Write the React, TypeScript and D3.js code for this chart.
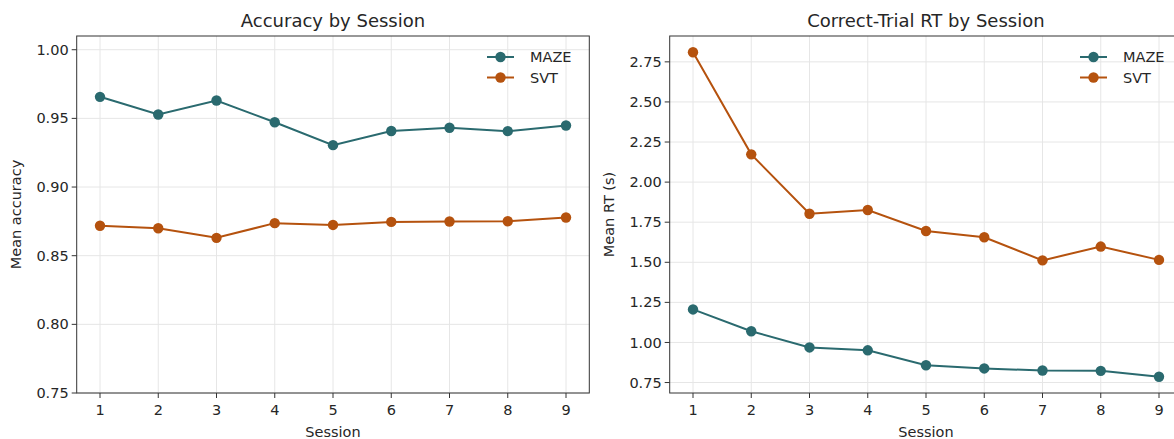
import React from "react";
import * as d3 from "d3";

const sessions = [1, 2, 3, 4, 5, 6, 7, 8, 9];
const mazeAccuracy = [0.9657, 0.9528, 0.963, 0.9472, 0.9305, 0.9408, 0.9432, 0.9407, 0.9448];
const svtAccuracy = [0.8718, 0.8700, 0.8630, 0.8737, 0.8724, 0.8746, 0.8749, 0.8751, 0.8778];
const mazeRT = [1.206, 1.07, 0.969, 0.951, 0.858, 0.838, 0.825, 0.823, 0.786];
const svtRT = [2.81, 2.173, 1.803, 1.826, 1.695, 1.656, 1.512, 1.598, 1.515];
const accTicks = [0.75, 0.8, 0.85, 0.9, 0.95, 1.0];
const rtTicks = [0.75, 1.0, 1.25, 1.5, 1.75, 2.0, 2.25, 2.5, 2.75];
const seriesNames = ["MAZE", "SVT"];

const MAZE_COLOR = "#2a6a6f";
const SVT_COLOR = "#b5520e";
const FONT = "DejaVu Sans, sans-serif";
const TEXT = "#262626";

type PanelProps = {
  left: number;
  right: number;
  top: number;
  bottom: number;
  title: string;
  ylabel: string;
  yDomain: [number, number];
  yTicks: number[];
  series: number[][];
  legendX: number;
  ylabelX: number;
};

function Panel(p: PanelProps) {
  const x = d3.scaleLinear().domain([0.6, 9.4]).range([p.left, p.right]);
  const y = d3.scaleLinear().domain(p.yDomain).range([p.bottom, p.top]);
  const colors = [MAZE_COLOR, SVT_COLOR];
  const line = d3
    .line<number>()
    .x((_, i) => x(sessions[i]))
    .y((d) => y(d));
  const clipId = "clip" + Math.round(p.left);
  return (
    <g>
      <defs>
        <clipPath id={clipId}>
          <rect x={p.left} y={p.top} width={p.right - p.left} height={p.bottom - p.top} />
        </clipPath>
      </defs>
      {sessions.map((s) => (
        <line key={"gx" + s} x1={x(s)} x2={x(s)} y1={p.top} y2={p.bottom} stroke="#e6e6e6" strokeWidth={1} />
      ))}
      {p.yTicks.map((t) => (
        <line key={"gy" + t} x1={p.left} x2={p.right} y1={y(t)} y2={y(t)} stroke="#e6e6e6" strokeWidth={1} />
      ))}
      <g clipPath={`url(#${clipId})`}>
        {p.series.map((vals, si) => (
          <g key={"s" + si}>
            <path d={line(vals) || ""} fill="none" stroke={colors[si]} strokeWidth={2} />
            {vals.map((v, i) => (
              <circle key={i} cx={x(sessions[i])} cy={y(v)} r={5.2} fill={colors[si]} />
            ))}
          </g>
        ))}
      </g>
      <rect x={p.left} y={p.top} width={p.right - p.left} height={p.bottom - p.top} fill="none" stroke="#333" strokeWidth={1} />
      {sessions.map((s) => (
        <g key={"tx" + s}>
          <line x1={x(s)} x2={x(s)} y1={p.bottom} y2={p.bottom + 5} stroke="#333" strokeWidth={1} />
          <text x={x(s)} y={p.bottom + 21.5} textAnchor="middle" fontSize={14.5} fill={TEXT} fontFamily={FONT}>
            {s}
          </text>
        </g>
      ))}
      {p.yTicks.map((t) => (
        <g key={"ty" + t}>
          <line x1={p.left - 5} x2={p.left} y1={y(t)} y2={y(t)} stroke="#333" strokeWidth={1} />
          <text x={p.left - 8} y={y(t)} dy="0.35em" textAnchor="end" fontSize={14.5} fill={TEXT} fontFamily={FONT}>
            {t.toFixed(2)}
          </text>
        </g>
      ))}
      <text x={(p.left + Math.min(p.right, 1174 + 8)) / 2} y={p.top - 9} textAnchor="middle" fontSize={18} fill={TEXT} fontFamily={FONT}>
        {p.title}
      </text>
      <text x={x(5)} y={437} textAnchor="middle" fontSize={14.5} fill={TEXT} fontFamily={FONT}>
        Session
      </text>
      <text
        transform={`translate(${p.ylabelX},${(p.top + p.bottom) / 2}) rotate(-90)`}
        textAnchor="middle"
        fontSize={14.5}
        fill={TEXT}
        fontFamily={FONT}
      >
        {p.ylabel}
      </text>
      {seriesNames.map((n, i) => {
        const ly = 57 + i * 20.5;
        return (
          <g key={"lg" + n}>
            <line x1={p.legendX} x2={p.legendX + 27} y1={ly} y2={ly} stroke={colors[i]} strokeWidth={2} />
            <circle cx={p.legendX + 13.5} cy={ly} r={5.2} fill={colors[i]} />
            <text x={p.legendX + 43} y={ly} dy="0.35em" fontSize={14.5} fill={TEXT} fontFamily={FONT}>
              {n}
            </text>
          </g>
        );
      })}
    </g>
  );
}

export default function App() {
  const rtMin = d3.min([...mazeRT, ...svtRT]) as number;
  const rtMax = d3.max([...mazeRT, ...svtRT]) as number;
  const pad = (rtMax - rtMin) * 0.05;
  return (
    <svg
      width={1174}
      height={439}
      style={{ position: "absolute", left: 0, top: 0, background: "#fff" }}
    >
      <rect width={1174} height={439} fill="#fff" />
      <Panel
        left={76.7}
        right={589.3}
        top={36}
        bottom={393}
        title="Accuracy by Session"
        ylabel="Mean accuracy"
        yDomain={[0.75, 1.01]}
        yTicks={accTicks}
        series={[mazeAccuracy, svtAccuracy]}
        legendX={487}
        ylabelX={21}
      />
      <Panel
        left={669.7}
        right={1182.3}
        top={36}
        bottom={393}
        title="Correct-Trial RT by Session"
        ylabel="Mean RT (s)"
        yDomain={[rtMin - pad, rtMax + pad]}
        yTicks={rtTicks}
        series={[mazeRT, svtRT]}
        legendX={1080}
        ylabelX={614}
      />
    </svg>
  );
}
